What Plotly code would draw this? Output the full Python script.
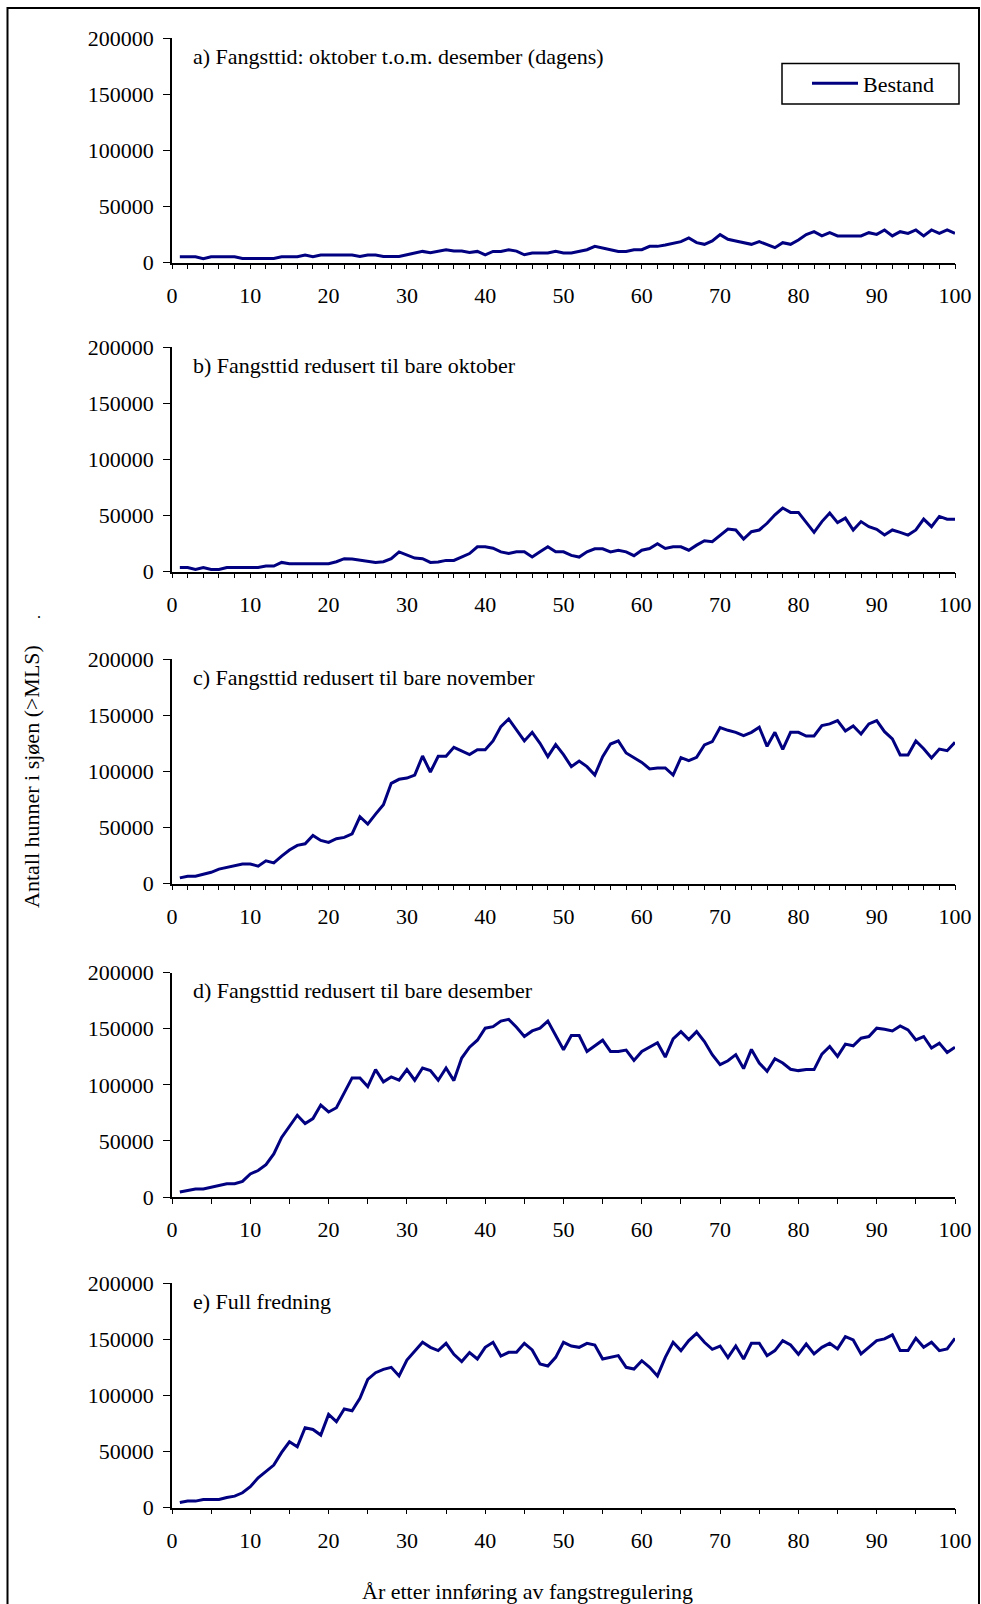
import plotly.graph_objects as go

W, H = 981, 1604

years = list(range(1, 101))

panel_titles = [
    "a) Fangsttid: oktober t.o.m. desember (dagens)",
    "b) Fangsttid redusert til bare oktober",
    "c) Fangsttid redusert til bare november",
    "d) Fangsttid redusert til bare desember",
    "e) Full fredning",
]

bestand_a = [5100,5100,5100,3300,5100,5100,5100,5100,3600,3600,
             3600,3600,3600,5100,5100,5100,6600,5100,6600,6600,
             6600,6600,6600,5400,6600,6600,5400,5400,5400,6900,
             8400,9900,8700,10200,11400,10200,10200,9000,9900,6900,
             9900,9900,11400,10200,6900,8400,8400,8400,9900,8400,
             8400,9600,11400,14400,13200,11400,9900,9900,11400,11400,
             14400,14400,15600,17400,18600,21900,17700,16200,19200,24900,
             20700,19200,18000,16200,18600,15600,13200,17700,16200,20100,
             24900,27500,23700,26600,23700,23700,23700,23700,26600,25100,
             29000,23700,27500,26000,29000,23700,29000,26000,29000,26000]

bestand_b = [3600,3600,1800,3600,1800,1800,3600,3600,3600,3600,
             3600,4800,4800,8100,6900,6900,6900,6900,6900,6900,
             8700,11400,11100,9900,8700,8100,8700,11400,17500,14700,
             12000,11400,8100,8400,9900,9900,13200,16000,22000,22000,
             20800,17500,16000,17500,17500,12900,17500,22000,17500,17500,
             14400,12900,17500,20200,20200,17500,19000,17500,14100,19000,
             20500,24700,20500,22000,22000,19000,23500,27400,26500,32500,
             37900,37000,28900,35500,37000,43000,50600,56600,52700,52700,
             43600,34900,44500,52100,43600,47600,37000,44500,40000,37600,
             32500,37000,34900,32500,37000,46700,40000,49100,46700,46700]

bestand_c = [5000,6500,6500,8300,10000,12800,14500,16000,17300,17300,
             15500,20200,18400,24400,29800,34000,35400,42900,38400,36600,
             39900,41100,44300,59500,53000,61900,70200,89300,92900,94000,
             96700,113700,99400,113400,113400,121400,118100,114900,119300,119300,
             127100,139900,146700,136900,127100,134800,125000,113100,123800,114900,
             104200,109200,104200,96700,113100,124400,127100,116400,111900,108000,
             102100,103000,103000,96700,112200,109500,112500,123500,126500,139000,
             136600,134800,131800,134800,139300,122300,134800,119600,134800,134800,
             131500,131500,140800,142300,145200,136000,140500,133300,142300,145200,
             135400,128900,114600,114600,127100,120200,111900,119900,118400,125900]

bestand_d = [4400,5900,7100,7100,8600,10000,11800,11800,13900,20600,
             23600,28900,38400,53100,62800,72900,65500,69900,82000,75800,
             79600,93500,106200,106200,98500,113600,102700,107100,104100,113600,
             104100,115000,112700,104100,115000,103800,123900,133600,139800,150500,
             151900,156900,158400,151300,143100,148100,150500,156900,143700,131300,
             144000,144000,129800,135100,139800,129800,129800,131000,121800,129800,
             133300,137500,124800,141000,147500,140400,147500,138600,126900,118000,
             121500,126900,114500,131600,119500,112100,123300,119500,113900,112700,
             113600,113600,127400,134200,125400,136300,134800,141600,143100,150500,
             149600,148100,152500,149000,140100,143100,132800,137200,128900,133600]

bestand_e = [4500,5700,5700,7100,7100,7100,8900,10100,13100,18500,
             26500,31800,37800,49100,58600,54200,71100,69600,64600,83000,
             76500,87800,86300,97300,114300,120200,123200,125000,117300,131500,
             139900,147300,142800,139900,146400,136600,130100,138100,132400,142800,
             147300,135100,138400,138400,146400,140500,128000,126200,133900,147300,
             144000,142800,146400,144900,132400,133900,135400,125000,123500,130900,
             125000,117300,133900,147300,139900,148800,155300,147300,141100,144000,
             133600,144000,132400,146400,146400,135400,139900,148800,144900,136600,
             145800,136900,142800,146400,141400,152400,149400,136900,142800,148800,
             150300,153900,139900,139900,150900,142800,147300,139900,141400,150900]

series = [bestand_a, bestand_b, bestand_c, bestand_d, bestand_e]
y_ticks = [0, 50000, 100000, 150000, 200000]
x_ticks = [0, 10, 20, 30, 40, 50, 60, 70, 80, 90, 100]
minor_steps = [2, 2, 2, 5, 5]

FONT = "Liberation Serif, Times New Roman, serif"
LINE_COLOR = "#000080"

panel_px = [(38.3, 262.5), (347.2, 571.5), (659.2, 883.5), (972.7, 1197.0), (1283.2, 1507.5)]
x_left, x_right = 172.0, 955.0

fig = go.Figure()
layout = dict(
    width=W, height=H, autosize=False,
    margin=dict(l=0, r=0, t=0, b=0, pad=0, autoexpand=False),
    paper_bgcolor="white", plot_bgcolor="white",
    font=dict(family=FONT, size=22, color="black"),
    showlegend=True,
)

annotations = []
for i, vals in enumerate(series):
    n = "" if i == 0 else str(i + 1)
    top, bot = panel_px[i]
    fig.add_trace(go.Scatter(
        x=years, y=vals, mode="lines",
        line=dict(color=LINE_COLOR, width=3),
        name="Bestand", showlegend=(i == 0),
        xaxis="x" + n, yaxis="y" + n,
    ))
    layout["xaxis" + n] = dict(
        domain=[x_left / W, x_right / W], anchor="y" + n, automargin=False,
        range=[0, 100], tickvals=x_ticks, ticktext=[str(v) for v in x_ticks],
        showline=True, linecolor="black", linewidth=1.5,
        ticks="outside", ticklen=5, tickwidth=1.3, tickcolor="black",
        minor=dict(dtick=minor_steps[i], tick0=0, ticks="outside", ticklen=5,
                   tickwidth=1.3, tickcolor="black", showgrid=False),
        showgrid=False, zeroline=False,
        tickfont=dict(family=FONT, size=22, color="black"),
        ticklabelstandoff=7,
    )
    layout["yaxis" + n] = dict(
        domain=[1 - bot / H, 1 - top / H], anchor="x" + n, automargin=False,
        range=[0, 200000], tickvals=y_ticks, ticktext=[str(v) for v in y_ticks],
        showline=True, linecolor="black", linewidth=1.5,
        ticks="outside", ticklen=7, tickwidth=1.3, tickcolor="black",
        showgrid=False, zeroline=False,
        tickfont=dict(family=FONT, size=22, color="black"),
        ticklabelstandoff=5,
    )
    annotations.append(dict(
        text=panel_titles[i], xref="paper", yref="paper",
        x=191 / W, y=1 - (top + 18) / H, xanchor="left", yanchor="middle",
        showarrow=False, font=dict(family=FONT, size=22, color="black"),
    ))

annotations.append(dict(
    text="Antall hunner i sjøen (>MLS)", xref="paper", yref="paper",
    x=31 / W, y=1 - 777 / H, textangle=-90, xanchor="center", yanchor="middle",
    showarrow=False, font=dict(family=FONT, size=22, color="black"),
))
annotations.append(dict(
    text=".", xref="paper", yref="paper",
    x=39 / W, y=1 - 612 / H, xanchor="center", yanchor="middle",
    showarrow=False, font=dict(family=FONT, size=16, color="black"),
))
annotations.append(dict(
    text="År etter innføring av fangstregulering", xref="paper", yref="paper",
    x=527 / W, y=1 - 1591 / H, xanchor="center", yanchor="middle",
    showarrow=False, font=dict(family=FONT, size=22, color="black"),
))
layout["annotations"] = annotations

layout["shapes"] = [
    # outer frame
    dict(type="rect", xref="paper", yref="paper",
         x0=7.5 / W, x1=979 / W, y0=-0.05, y1=1 - 8 / H,
         line=dict(color="black", width=2), fillcolor="rgba(0,0,0,0)"),
    # legend box
    dict(type="rect", xref="paper", yref="paper",
         x0=782 / W, x1=959 / W, y0=1 - 104 / H, y1=1 - 63.5 / H,
         line=dict(color="black", width=1.5), fillcolor="white", layer="below"),
]
layout["legend"] = dict(
    x=807 / W, y=1 - 83.5 / H, xanchor="left", yanchor="middle",
    bgcolor="rgba(0,0,0,0)", borderwidth=0,
    font=dict(family=FONT, size=22, color="black"),
    itemwidth=46,
)

fig.update_layout(**layout)
fig.write_html(
    "out.html",
    config={"displayModeBar": False},
    post_script="document.body.style.margin='0px';document.body.style.overflow='hidden';",
)
